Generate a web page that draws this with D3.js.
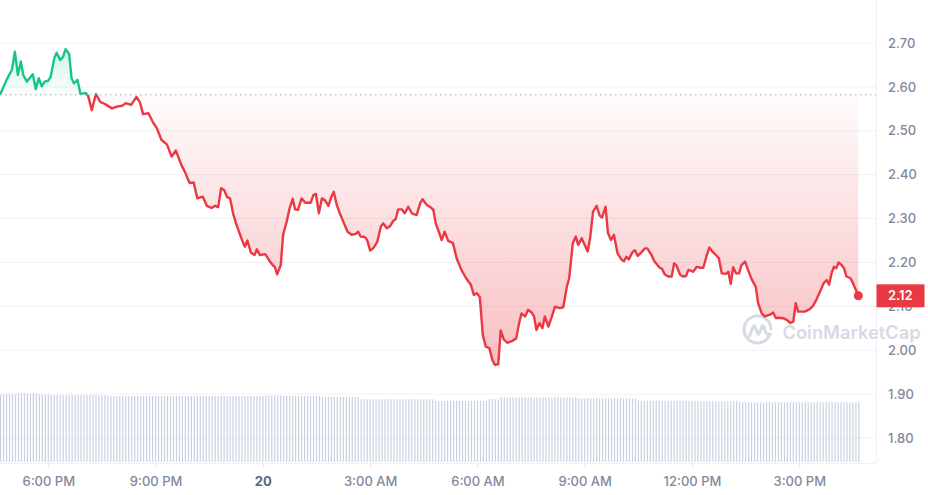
<!DOCTYPE html>
<html>
<head>
<meta charset="utf-8">
<script src="https://cdn.jsdelivr.net/npm/d3@7"></script>
<style>
  body { margin: 0; background: #fff; }
  svg { display: block; font-family: Inter, "Noto Sans", sans-serif; }
</style>
</head>
<body>
<div id="chart"></div>
<script>
// Price samples: minutes after the window start (4:39 PM on the 19th) and price in USD
var minutes = [
  0, 11, 20, 25, 30, 35, 39, 45, 55, 60,
  65, 70, 75, 81, 85, 91, 95, 101, 106, 110,
  116, 120, 124, 130, 135, 144, 148, 154, 161, 168,
  176, 188, 196, 205, 211, 220, 229, 235, 240, 249,
  256, 263, 271, 280, 288, 295, 305, 310, 318, 325,
  331, 340, 347, 355, 361, 366, 371, 376, 381, 386,
  391, 396, 401, 408, 411, 415, 421, 427, 431, 436,
  445, 453, 458, 461, 465, 471, 475, 481, 486, 491,
  495, 500, 506, 512, 521, 526, 530, 535, 540, 545,
  551, 556, 560, 565, 570, 576, 583, 590, 597, 601,
  605, 612, 616, 621, 626, 633, 639, 643, 649, 654,
  660, 664, 668, 674, 679, 685, 691, 699, 705, 709,
  716, 721, 727, 731, 737, 741, 746, 752, 760, 766,
  774, 782, 790, 795, 800, 805, 810, 815, 821, 826,
  830, 836, 840, 845, 851, 858, 866, 871, 875, 881,
  886, 892, 896, 900, 905, 910, 914, 920, 925, 931,
  939, 945, 951, 955, 961, 966, 970, 976, 981, 986,
  990, 995, 1001, 1006, 1010, 1016, 1020, 1025, 1030, 1036,
  1043, 1047, 1051, 1055, 1061, 1065, 1070, 1076, 1082, 1086,
  1093, 1098, 1103, 1107, 1111, 1115, 1121, 1127, 1131, 1135,
  1141, 1146, 1151, 1155, 1163, 1169, 1174, 1180, 1185, 1190,
  1195, 1201, 1206, 1211, 1218, 1222, 1226, 1230, 1235, 1240,
  1244, 1250, 1255, 1261, 1268, 1272, 1278, 1283, 1292, 1297,
  1302, 1307, 1314, 1320, 1326, 1331, 1335, 1339, 1350, 1358,
  1364, 1370, 1377, 1382, 1387, 1391, 1395, 1399, 1403, 1407,
  1412, 1416, 1420, 1427, 1430, 1436, 1440
];

var prices = [
  2.582, 2.616, 2.639, 2.680, 2.627, 2.658, 2.627, 2.612, 2.629, 2.595,
  2.620, 2.601, 2.612, 2.614, 2.623, 2.665, 2.678, 2.661, 2.669, 2.686,
  2.675, 2.620, 2.608, 2.616, 2.584, 2.586, 2.579, 2.547, 2.584, 2.566,
  2.561, 2.551, 2.555, 2.557, 2.563, 2.559, 2.577, 2.564, 2.538, 2.540,
  2.521, 2.506, 2.479, 2.469, 2.441, 2.455, 2.420, 2.407, 2.381, 2.382,
  2.346, 2.350, 2.329, 2.324, 2.329, 2.326, 2.369, 2.365, 2.349, 2.346,
  2.312, 2.289, 2.270, 2.244, 2.236, 2.250, 2.222, 2.217, 2.230, 2.217,
  2.219, 2.202, 2.193, 2.190, 2.173, 2.194, 2.263, 2.293, 2.324, 2.345,
  2.321, 2.320, 2.346, 2.336, 2.336, 2.354, 2.356, 2.312, 2.346, 2.342,
  2.329, 2.350, 2.361, 2.331, 2.312, 2.293, 2.270, 2.263, 2.265, 2.270,
  2.259, 2.258, 2.251, 2.227, 2.232, 2.247, 2.282, 2.289, 2.278, 2.282,
  2.295, 2.299, 2.321, 2.321, 2.312, 2.327, 2.312, 2.308, 2.335, 2.344,
  2.331, 2.327, 2.320, 2.289, 2.267, 2.251, 2.270, 2.249, 2.244, 2.210,
  2.183, 2.164, 2.149, 2.126, 2.130, 2.121, 2.035, 2.008, 2.005, 1.978,
  1.967, 1.968, 2.045, 2.025, 2.017, 2.020, 2.027, 2.062, 2.084, 2.077,
  2.092, 2.086, 2.077, 2.046, 2.062, 2.050, 2.077, 2.054, 2.073, 2.099,
  2.096, 2.098, 2.145, 2.164, 2.244, 2.259, 2.240, 2.255, 2.240, 2.225,
  2.255, 2.316, 2.329, 2.307, 2.302, 2.327, 2.267, 2.251, 2.263, 2.221,
  2.206, 2.203, 2.213, 2.207, 2.223, 2.228, 2.215, 2.223, 2.232, 2.232,
  2.217, 2.202, 2.194, 2.188, 2.185, 2.173, 2.168, 2.168, 2.198, 2.193,
  2.172, 2.168, 2.169, 2.183, 2.179, 2.190, 2.188, 2.188, 2.213, 2.234,
  2.225, 2.217, 2.210, 2.175, 2.174, 2.179, 2.151, 2.189, 2.175, 2.175,
  2.194, 2.202, 2.183, 2.162, 2.144, 2.107, 2.084, 2.077, 2.081, 2.086,
  2.073, 2.074, 2.073, 2.069, 2.062, 2.065, 2.107, 2.088, 2.088, 2.093,
  2.101, 2.116, 2.137, 2.153, 2.160, 2.149, 2.175, 2.190, 2.187, 2.200,
  2.194, 2.187, 2.168, 2.164, 2.156, 2.137, 2.124
];

// Rolling 24h volume, one bar every 5 minutes (millions USD)
var volume = [
  98.0, 98.2, 98.1, 98.3, 98.1, 98.2,
  99.5, 99.7, 99.6, 99.8, 99.6, 99.5, 99.6,
  98.2, 98.1, 98.0, 98.1,
  97.2, 97.0, 97.1, 97.3, 97.1, 97.0, 97.2, 97.1, 96.9, 97.1,
  97.2, 97.0, 97.1, 97.0, 97.2, 97.1, 96.9, 97.0, 97.1,
  95.8, 95.6, 95.7, 95.9, 95.7, 95.6, 95.8, 95.7, 95.5, 95.7,
  95.8, 95.6, 95.7, 95.7, 95.9, 95.8, 95.6, 95.7, 95.6, 95.8,
  95.7, 95.5, 95.7, 95.8, 95.6, 95.7, 95.9, 95.7, 95.6, 95.8,
  95.7, 95.6, 95.8, 95.7, 95.5, 95.7, 95.8, 95.6, 95.7, 95.7,
  95.9, 95.8, 95.6, 95.7, 95.6, 95.8, 95.7, 95.5, 95.7, 95.8,
  95.6, 95.7, 95.8,
  96.1, 96.2, 96.0, 96.1, 96.3, 96.1, 96.0, 96.2, 96.1, 96.0,
  95.9, 95.8, 95.7, 95.8, 95.6, 95.7, 95.8, 95.6, 95.7,
  94.3, 94.1, 94.2, 94.4, 94.2, 94.1, 94.3, 94.2, 94.0, 94.2, 94.3, 94.1, 94.2,
  91.0, 90.8, 90.9, 91.1, 90.9, 90.8, 91.0, 90.9, 90.7, 90.9,
  91.0, 90.8, 90.9, 90.9, 91.1, 91.0, 90.8, 90.9, 90.8, 91.0,
  90.9, 90.7, 90.9, 91.0, 90.8,
  88.5, 88.3, 88.4, 88.6, 88.4, 88.3, 88.5, 88.4, 88.2, 88.4,
  88.5, 88.3, 88.4, 88.4, 88.6, 88.5, 88.3, 88.4,
  91.2, 91.4, 91.3, 91.2,
  93.9, 93.7, 93.8, 94.0, 93.8, 93.7, 93.9, 93.8, 93.6, 93.8,
  93.9, 93.7, 93.8, 93.8, 94.0, 93.9, 93.7, 93.8, 93.7, 93.9,
  93.8, 93.6, 93.8, 93.9, 93.7, 93.8,
  92.4, 92.2, 92.3, 92.5, 92.3, 92.2, 92.4, 92.3, 92.1, 92.3,
  92.4, 92.2, 92.3, 92.3, 92.5, 92.4, 92.2, 92.3, 92.2, 92.4,
  88.9, 88.7, 88.8, 89.0, 88.8, 88.7, 88.9, 88.8, 88.6, 88.8,
  88.9, 88.7, 88.8, 88.8, 89.0, 88.9, 88.7, 88.8, 88.7,
  88.1, 87.9, 88.0, 88.2, 88.0, 87.9, 88.1, 88.0, 87.8, 88.0,
  88.1, 87.9, 88.0, 88.0, 88.2,
  86.6, 86.4, 86.5, 86.7, 86.5, 86.4, 86.6, 86.5, 86.3, 86.5,
  86.6, 86.4, 86.5, 86.5, 86.7, 86.6, 86.4, 86.5, 86.4, 86.6,
  86.5, 86.3, 86.5, 86.6, 86.4, 86.5, 86.7, 86.5, 86.4, 86.6,
  86.5, 86.4, 86.6, 86.5, 86.3, 86.5, 86.6, 86.4, 86.5, 86.5,
  86.7
];

var priceTicks = [1.8, 1.9, 2.0, 2.1, 2.2, 2.3, 2.4, 2.5, 2.6, 2.7];

// Colours
var green = '#16c784';
var red = '#ea3943';
var gridColor = '#eff2f5';
var labelColor = '#7f899c';

// SVG area
var svgWidth = 928;
var svgHeight = 495;
var plotRight = 876;
var plotBottom = 463;
var lineRight = 858.3;

var svg = d3.select('#chart')
    .append('svg')
    .attr('width', svgWidth)
    .attr('height', svgHeight);

var start = new Date(2025, 0, 19, 16, 39);
var data = minutes.map((m, i) => ({ t: d3.timeMinute.offset(start, m), p: prices[i] }));
var open = prices[0];
var last = data[data.length - 1];

// Scales
var x = d3.scaleTime()
    .domain([start, d3.timeMinute.offset(start, 1440)])
    .range([0, lineRight]);

var y = d3.scaleLinear()
    .domain([1.8, 2.7])
    .range([438, 43]);

var yVol = d3.scaleLinear()
    .domain([0, 100])
    .range([plotBottom - 1, 393]);

var yBase = y(open);
var yLow = y(d3.min(prices));
var yHigh = y(d3.max(prices));

// Gradients and clips
var defs = svg.append('defs');

var gUp = defs.append('linearGradient')
    .attr('id', 'fillUp')
    .attr('gradientUnits', 'userSpaceOnUse')
    .attr('x1', 0).attr('x2', 0)
    .attr('y1', yHigh).attr('y2', yBase);
gUp.append('stop').attr('offset', 0).attr('stop-color', green).attr('stop-opacity', 0.2);
gUp.append('stop').attr('offset', 1).attr('stop-color', green).attr('stop-opacity', 0.02);

var gDown = defs.append('linearGradient')
    .attr('id', 'fillDown')
    .attr('gradientUnits', 'userSpaceOnUse')
    .attr('x1', 0).attr('x2', 0)
    .attr('y1', yBase).attr('y2', yLow);
gDown.append('stop').attr('offset', 0).attr('stop-color', red).attr('stop-opacity', 0.02);
gDown.append('stop').attr('offset', 1).attr('stop-color', red).attr('stop-opacity', 0.32);

defs.append('clipPath').attr('id', 'above')
    .append('rect').attr('x', 0).attr('y', 0).attr('width', svgWidth).attr('height', yBase);
defs.append('clipPath').attr('id', 'below')
    .append('rect').attr('x', 0).attr('y', yBase).attr('width', svgWidth).attr('height', svgHeight - yBase);

// Grid
svg.append('g')
    .selectAll('line')
    .data(priceTicks)
    .enter()
    .append('line')
    .attr('x1', 0)
    .attr('x2', plotRight)
    .attr('y1', d => y(d))
    .attr('y2', d => y(d))
    .attr('stroke', gridColor);

svg.append('line')
    .attr('x1', plotRight + 0.5).attr('x2', plotRight + 0.5)
    .attr('y1', 0).attr('y2', plotBottom)
    .attr('stroke', gridColor);

svg.append('line')
    .attr('x1', 0).attr('x2', plotRight)
    .attr('y1', plotBottom + 0.5).attr('y2', plotBottom + 0.5)
    .attr('stroke', gridColor);

// Volume bars
svg.append('g')
    .selectAll('rect')
    .data(volume)
    .enter()
    .append('rect')
    .attr('x', (d, i) => x(d3.timeMinute.offset(start, i * 5)))
    .attr('y', d => yVol(d))
    .attr('width', 1.2)
    .attr('height', d => yVol(0) - yVol(d))
    .attr('fill', '#c8d1e2');

// Price area
var area = d3.area()
    .x(d => x(d.t))
    .y0(yBase)
    .y1(d => y(d.p));

svg.append('path')
    .datum(data)
    .attr('d', area)
    .attr('fill', 'url(#fillUp)')
    .attr('clip-path', 'url(#above)');

svg.append('path')
    .datum(data)
    .attr('d', area)
    .attr('fill', 'url(#fillDown)')
    .attr('clip-path', 'url(#below)');

// Open price reference
svg.append('line')
    .attr('x1', 0).attr('x2', plotRight)
    .attr('y1', yBase).attr('y2', yBase)
    .attr('stroke', '#a1a7b3')
    .attr('stroke-width', 1)
    .attr('stroke-dasharray', '1.5,3.5');

// Watermark
var mark = svg.append('g')
    .attr('transform', 'translate(757.5,330)')
    .attr('fill', 'none')
    .attr('stroke', '#d5dbe5')
    .attr('stroke-width', 3)
    .attr('stroke-linecap', 'round')
    .attr('stroke-linejoin', 'round');
mark.append('path')
    .attr('d', 'M11.5,6.5 A13.5,13.5 0 1,1 13.5,-1');
mark.append('path')
    .attr('d', 'M-8,6 L-4.5,-3 Q-3.5,-5.5 -2.5,-3 L0,3 Q1,5.5 2,3 L4.5,-3.5 Q5.5,-5.5 6.5,-3 L8,2 Q9.5,5.5 13,4');

svg.append('text')
    .attr('x', 782.5)
    .attr('y', 339)
    .attr('font-size', 18.3)
    .attr('font-weight', 600)
    .attr('fill', '#d5dbe5')
    .text('CoinMarketCap');

// Price line, green above the open and red below
var line = d3.line()
    .x(d => x(d.t))
    .y(d => y(d.p));

svg.append('path')
    .datum(data)
    .attr('d', line)
    .attr('fill', 'none')
    .attr('stroke', green)
    .attr('stroke-width', 2.4)
    .attr('stroke-linejoin', 'round')
    .attr('clip-path', 'url(#above)');

svg.append('path')
    .datum(data)
    .attr('d', line)
    .attr('fill', 'none')
    .attr('stroke', red)
    .attr('stroke-width', 2.4)
    .attr('stroke-linejoin', 'round')
    .attr('clip-path', 'url(#below)');

svg.append('circle')
    .attr('cx', x(last.t))
    .attr('cy', y(last.p))
    .attr('r', 4.5)
    .attr('fill', red);

// Axes
var fmtHour = d3.timeFormat('%-I:%M %p');
var fmtDay = d3.timeFormat('%-d');

var xAxis = d3.axisBottom(x)
    .ticks(d3.timeHour.every(3))
    .tickSize(5)
    .tickPadding(9)
    .tickFormat(d => d.getHours() === 0 ? fmtDay(d) : fmtHour(d));

var gx = svg.append('g')
    .attr('transform', `translate(0,${plotBottom})`)
    .call(xAxis);
gx.select('.domain').remove();
gx.selectAll('.tick line').attr('stroke', '#e3e6ec');
gx.selectAll('.tick text')
    .attr('font-family', 'Inter, sans-serif')
    .attr('font-size', 13)
    .attr('font-weight', 500)
    .attr('fill', labelColor)
    .filter(d => d.getHours() === 0)
    .attr('font-weight', 700)
    .attr('fill', '#58667e');

var yAxis = d3.axisRight(y)
    .tickValues(priceTicks)
    .tickSize(0)
    .tickPadding(12)
    .tickFormat(d3.format('.2f'));

var gy = svg.append('g')
    .attr('transform', `translate(${plotRight},0)`)
    .call(yAxis);
gy.select('.domain').remove();
gy.selectAll('.tick text')
    .attr('font-family', 'Inter, sans-serif')
    .attr('font-size', 13)
    .attr('font-weight', 500)
    .attr('fill', labelColor);

// Last price tag
svg.append('rect')
    .attr('x', plotRight + 0.5)
    .attr('y', y(last.p) - 11.5)
    .attr('width', 48)
    .attr('height', 23)
    .attr('fill', red);

svg.append('text')
    .attr('x', plotRight + 12)
    .attr('y', y(last.p))
    .attr('dy', '0.35em')
    .attr('font-size', 13)
    .attr('font-weight', 600)
    .attr('fill', '#fff')
    .text(d3.format('.2f')(last.p));
</script>
</body>
</html>
